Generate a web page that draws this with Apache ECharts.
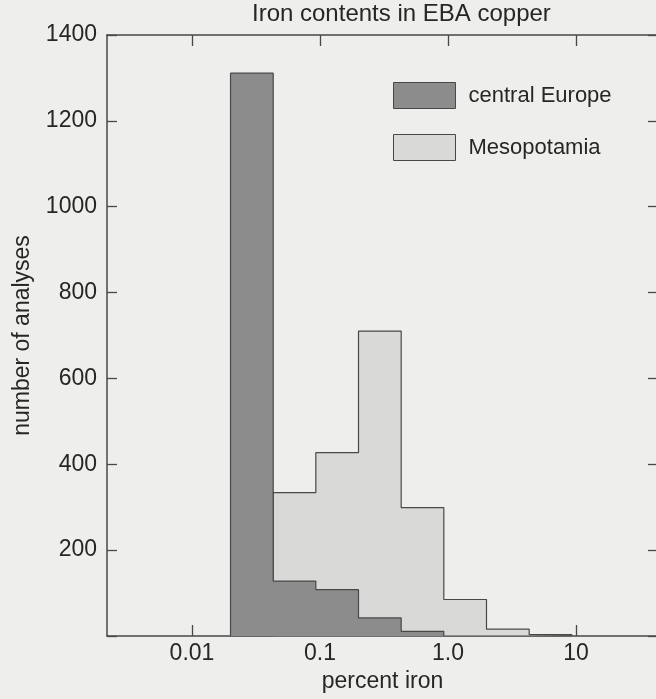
<!DOCTYPE html>
<html>
<head>
<meta charset="utf-8">
<script src="https://cdn.jsdelivr.net/npm/echarts@6/dist/echarts.min.js"></script>
<style>
  html, body { margin: 0; padding: 0; overflow: hidden; background: #eeeeec; }
  #chart { width: 662px; height: 699px; }
</style>
</head>
<body>
<div id="chart"></div>
<script>
// Histogram bins: one-third-decade steps starting at 0.02 % Fe
const binEdges = [0.02, 0.0431, 0.0928, 0.2, 0.431, 0.928, 2.0, 4.31, 9.28];
// Number of analyses in each bin
const centralEurope = [1311, 128, 108, 42, 11, 0, 0, 0];
const mesopotamia   = [0, 334, 427, 710, 299, 85, 16, 3];
// Decade ticks along the iron axis
const xTickValues = [0.01, 0.1, 1, 10];
const xTickLabels = ['0.01', '0.1', '1.0', '10'];

const seriesNames = ['central Europe', 'Mesopotamia'];

const darkFill = '#8c8c8c';
const lightFill = '#d9d9d7';
const ink = '#484848';
const textColor = '#262626';
const font = 'Liberation Sans, Arial, Helvetica, sans-serif';

// Turn bin counts into the outline points of a step histogram
function stepOutline(values) {
  const pts = [[binEdges[0], 0]];
  values.forEach((v, i) => pts.push([binEdges[i], v]));
  const last = values.length;
  pts.push([binEdges[last], values[last - 1]]);
  pts.push([binEdges[last], 0]);
  return pts;
}

// Axis range: log-scaled, frame running a little past the window edge
const xMin = Math.pow(10, -2.664);
const xMax = Math.pow(10, 1.641);

const chart = echarts.init(document.getElementById('chart'), null, { renderer: 'canvas' });

const xBase = {
  type: 'log',
  logBase: 10,
  min: xMin,
  max: xMax,
  splitLine: { show: false },
  axisLine: { show: true, onZero: false, lineStyle: { color: ink, width: 1.5 } },
  axisTick: { show: true, inside: true, length: 11, customValues: xTickValues, lineStyle: { color: ink, width: 1.3 } },
  minorTick: { show: false }
};
const yBase = {
  type: 'value',
  min: 0,
  max: 1400,
  interval: 200,
  splitLine: { show: false },
  axisLine: { show: true, onZero: false, lineStyle: { color: ink, width: 1.5 } },
  axisTick: { show: true, inside: true, length: 10, lineStyle: { color: ink, width: 1.3 } }
};

chart.setOption({
  backgroundColor: '#eeeeec',
  animation: false,
  title: {
    text: 'Iron contents in EBA copper',
    left: 252,
    top: 2,
    padding: 0,
    textStyle: { fontFamily: font, fontSize: 24, fontWeight: 'normal', color: textColor }
  },
  legend: {
    orient: 'vertical',
    left: 393,
    top: 82,
    padding: 0,
    itemWidth: 62,
    itemHeight: 26,
    itemGap: 25,
    icon: 'rect',
    selectedMode: false,
    textStyle: { fontFamily: font, fontSize: 22, color: textColor, padding: [0, 0, 0, 8] },
    data: [
      { name: seriesNames[0], itemStyle: { color: darkFill, borderColor: ink, borderWidth: 1 } },
      { name: seriesNames[1], itemStyle: { color: lightFill, borderColor: ink, borderWidth: 1 } }
    ]
  },
  grid: { left: 107, top: 35, width: 551, height: 601, containLabel: false },
  xAxis: [
    Object.assign({}, xBase, {
      position: 'bottom',
      name: 'percent iron',
      nameLocation: 'middle',
      nameGap: 30,
      nameTextStyle: { fontFamily: font, fontSize: 23, color: textColor },
      axisLabel: {
        show: true,
        margin: 6,
        customValues: xTickValues,
        fontFamily: font,
        fontSize: 23,
        color: textColor,
        formatter: (v) => {
          const i = xTickValues.findIndex(t => Math.abs(Math.log10(t) - Math.log10(v)) < 1e-6);
          return i >= 0 ? xTickLabels[i] : '';
        }
      }
    }),
    Object.assign({}, xBase, { position: 'top', axisLabel: { show: false } })
  ],
  yAxis: [
    Object.assign({}, yBase, {
      position: 'left',
      name: 'number of analyses',
      nameLocation: 'middle',
      nameGap: 73,
      nameRotate: 90,
      nameTextStyle: { fontFamily: font, fontSize: 23, color: textColor },
      axisLabel: {
        margin: 10,
        fontFamily: font,
        fontSize: 23,
        color: textColor,
        formatter: (v) => (v === 0 ? '' : String(v))
      }
    }),
    Object.assign({}, yBase, { position: 'right', axisLabel: { show: false } })
  ],
  series: [
    {
      name: seriesNames[1],
      type: 'line',
      step: 'end',
      xAxisIndex: 0,
      yAxisIndex: 0,
      symbol: 'none',
      z: 2,
      data: stepOutline(mesopotamia),
      itemStyle: { color: lightFill },
      lineStyle: { color: ink, width: 1.2 },
      areaStyle: { color: lightFill, opacity: 1 }
    },
    {
      name: seriesNames[0],
      type: 'line',
      step: 'end',
      xAxisIndex: 0,
      yAxisIndex: 0,
      symbol: 'none',
      z: 3,
      data: stepOutline(centralEurope),
      itemStyle: { color: darkFill },
      lineStyle: { color: ink, width: 1.2 },
      areaStyle: { color: darkFill, opacity: 1 }
    }
  ]
});
</script>
</body>
</html>
